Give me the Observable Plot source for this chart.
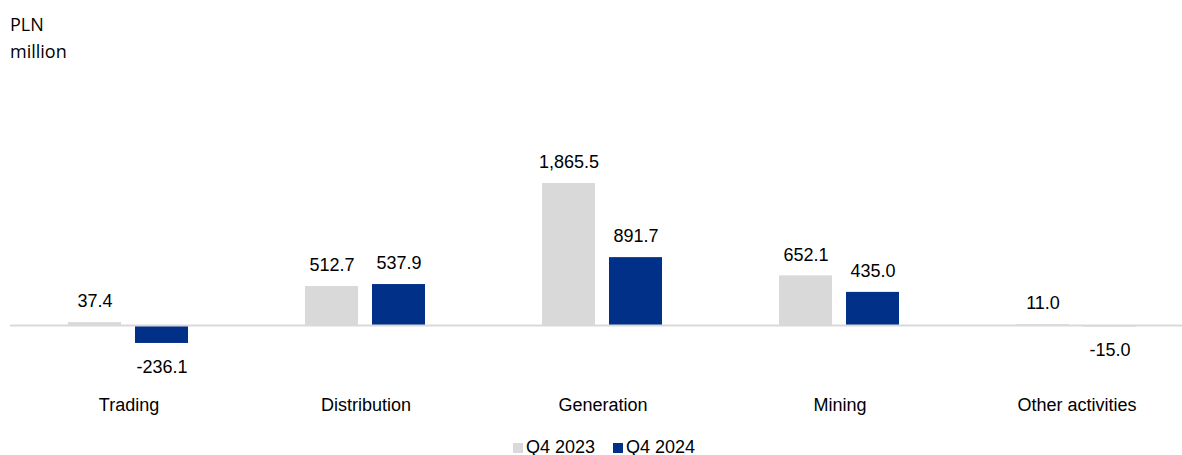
<!DOCTYPE html>
<html>
<head>
<meta charset="utf-8">
<script src="https://cdn.jsdelivr.net/npm/d3@7"></script>
<script src="https://cdn.jsdelivr.net/npm/@observablehq/plot@0.6"></script>
<style>
  html, body { margin: 0; padding: 0; background: #fff; overflow: hidden; }
  #title { box-sizing: border-box; height: 70px; padding: 11px 0 0 10px; font-family: "Open Sans", sans-serif; font-size: 18px; line-height: 27px; color: #000; }
  #chart svg { display: block; }
  #legend { display: flex; justify-content: center; padding-left: 26px; margin-top: 12px; gap: 18px; font-family: "Liberation Sans", Arial, sans-serif; font-size: 18px; line-height: 20px; color: #000; }
  #legend .sw { display: inline-block; width: 10px; height: 10px; margin-right: 3px; }
</style>
</head>
<body>
<div id="title">PLN<br>million</div>
<div id="chart"></div>
<div id="legend"></div>
<script>
const categories = ["Trading", "Distribution", "Generation", "Mining", "Other activities"];
const series = ["Q4 2023", "Q4 2024"];
const q4_2023 = [37.4, 512.7, 1865.5, 652.1, 11.0];
const q4_2024 = [-236.1, 537.9, 891.7, 435.0, -15.0];
const colors = ["#d9d9d9", "#003087"];

const data = categories.flatMap((c, i) => [
  {category: c, series: series[0], value: q4_2023[i]},
  {category: c, series: series[1], value: q4_2024[i]}
]);

const fmt = d3.formatLocale({decimal: ".", thousands: ",", grouping: [3], currency: ["", ""], minus: "-"}).format(",.1f");

const chart = Plot.plot({
  width: 1182,
  height: 355,
  marginLeft: 9,
  marginRight: -14,
  marginTop: 40,
  marginBottom: 30,
  style: {fontFamily: "'Liberation Sans', Arial, sans-serif", fontSize: "18px", color: "#000", background: "transparent"},
  fx: {domain: categories, padding: 0, label: null, axis: "bottom", tickSize: 0, tickPadding: 3},
  x: {domain: series, paddingInner: 0.2074, paddingOuter: 0.859, axis: null},
  y: {domain: [-920, 2825], axis: null},
  color: {domain: series, range: colors},
  marks: [
    Plot.barY(data, {fx: "category", x: "series", y: "value", fill: "series"}),
    Plot.ruleY([0], {stroke: "#d9d9d9", strokeWidth: 2}),
    Plot.text(data.filter(d => d.value >= 0), {fx: "category", x: "series", y: "value", text: d => fmt(d.value), dy: -21, fill: "#000"}),
    Plot.text(data.filter(d => d.value < 0), {fx: "category", x: "series", y: "value", text: d => fmt(d.value), dy: 24, fill: "#000"})
  ]
});
document.getElementById("chart").appendChild(chart);

const legend = document.getElementById("legend");
series.forEach((s, i) => {
  const item = document.createElement("span");
  const sw = document.createElement("span");
  sw.className = "sw";
  sw.style.background = colors[i];
  item.appendChild(sw);
  item.appendChild(document.createTextNode(s));
  legend.appendChild(item);
});
</script>
</body>
</html>
